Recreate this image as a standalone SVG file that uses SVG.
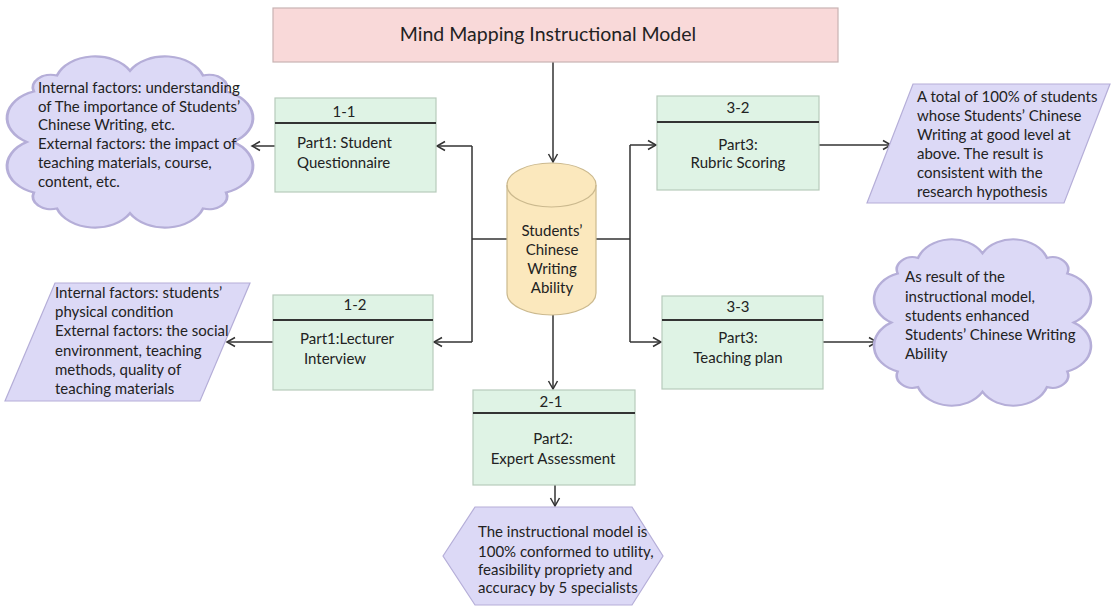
<svg xmlns="http://www.w3.org/2000/svg" width="1112" height="610" viewBox="0 0 1112 610">
<defs>
<style>
.t{font-family:Lato,"Open Sans","DejaVu Sans",sans-serif;font-size:15px;fill:#222}
.c{text-anchor:middle}
.box{fill:#dff3e5;stroke:#b7cbbb;stroke-width:1.2}
.hd{stroke:#333;stroke-width:2}
.pur{fill:#dcd9f6;stroke:#b5aed8;stroke-width:1.2}
.ln{fill:none;stroke:#333;stroke-width:1.5}
</style>
<marker id="ar" markerUnits="userSpaceOnUse" markerWidth="12" markerHeight="12" refX="10" refY="6" orient="auto">
<path d="M2,1.5 L10,6 L2,10.5" fill="none" stroke="#333" stroke-width="1.5"/>
</marker>
<path id="cloud" d="M50,9 A16.4,16.4 0 0 1 79.7,11.8 A7.3,7.3 0 0 1 89.1,21 A16,16 0 0 1 92,50 A16,16 0 0 1 89.1,79 A7.3,7.3 0 0 1 79.7,88.2 A16.4,16.4 0 0 1 50,91 A16.4,16.4 0 0 1 20.3,88.2 A7.3,7.3 0 0 1 10.9,79 A16,16 0 0 1 8,50 A16,16 0 0 1 10.9,21 A7.3,7.3 0 0 1 20.3,11.8 A16.4,16.4 0 0 1 50,9 Z"/>
</defs>
<rect width="1112" height="610" fill="#ffffff"/>

<g id="connectors">
<path class="ln" d="M553,62 V162" marker-end="url(#ar)"/>
<path class="ln" d="M507,239 H472 M472,146 V342 M596,239 H630 M630,145 V342"/>
<path class="ln" d="M472,146 H437" marker-end="url(#ar)"/>
<path class="ln" d="M472,342 H434" marker-end="url(#ar)"/>
<path class="ln" d="M630,145 H656" marker-end="url(#ar)"/>
<path class="ln" d="M630,342 H661" marker-end="url(#ar)"/>
<path class="ln" d="M553,315 V389" marker-end="url(#ar)"/>
<path class="ln" d="M555,485 V506" marker-end="url(#ar)"/>
<path class="ln" d="M275,146 H252" marker-end="url(#ar)"/>
<path class="ln" d="M273,342 H227" marker-end="url(#ar)"/>
<path class="ln" d="M819,145 H891" marker-end="url(#ar)"/>
<path class="ln" d="M822,342 H877" marker-end="url(#ar)"/>
</g>

<g id="title">
<rect x="273" y="8" width="565" height="54" fill="#f9d9d9" stroke="#c8b3b3" stroke-width="1.2"/>
<text class="t c" x="548" y="41" style="font-size:19.5px">Mind Mapping Instructional Model</text>
</g>

<g id="center">
<path d="M507,185 V293 A44.5,22 0 0 0 596,293 V185 A44.5,22 0 0 0 507,185 Z" fill="#fbe8bd" stroke="#cbb98e" stroke-width="1.2"/>
<path d="M507,185 A44.5,22 0 0 0 596,185" fill="none" stroke="#cbb98e" stroke-width="1.2"/>
<text class="t c" x="552" y="236">Students’</text>
<text class="t c" x="552" y="255">Chinese</text>
<text class="t c" x="552" y="274">Writing</text>
<text class="t c" x="552" y="293">Ability</text>
</g>

<g id="box11">
<rect class="box" x="275" y="98" width="161" height="94"/>
<line class="hd" x1="275" y1="123" x2="436" y2="123"/>
<text class="t c" x="344" y="117">1-1</text>
<text class="t" x="297" y="148">Part1: Student</text>
<text class="t" x="297" y="168">Questionnaire</text>
</g>

<g id="box12">
<rect class="box" x="273" y="295" width="160" height="95"/>
<line class="hd" x1="273" y1="320" x2="433" y2="320"/>
<text class="t c" x="355" y="310">1-2</text>
<text class="t" x="300" y="344">Part1:Lecturer</text>
<text class="t" x="304" y="364">Interview</text>
</g>

<g id="box32">
<rect class="box" x="657" y="96" width="162" height="94"/>
<line class="hd" x1="657" y1="122" x2="819" y2="122"/>
<text class="t c" x="738" y="113">3-2</text>
<text class="t c" x="738" y="150">Part3:</text>
<text class="t c" x="738" y="168">Rubric Scoring</text>
</g>

<g id="box33">
<rect class="box" x="662" y="296" width="161" height="93"/>
<line class="hd" x1="662" y1="320" x2="823" y2="320"/>
<text class="t c" x="738" y="312">3-3</text>
<text class="t c" x="738" y="343">Part3:</text>
<text class="t c" x="738" y="363">Teaching plan</text>
</g>

<g id="box21">
<rect class="box" x="473" y="390" width="162" height="95"/>
<line class="hd" x1="473" y1="413" x2="635" y2="413"/>
<text class="t c" x="551" y="407">2-1</text>
<text class="t c" x="553" y="444">Part2:</text>
<text class="t c" x="553" y="464">Expert Assessment</text>
</g>

<g id="cloudLeft">
<use href="#cloud" transform="translate(7,55) scale(2.46,1.74)" fill="#dcd9f6" stroke="#b5aed8" stroke-width="1.2" vector-effect="non-scaling-stroke"/>
<text class="t" x="38" y="93">Internal factors: understanding</text>
<text class="t" x="38" y="112">of The importance of Students’</text>
<text class="t" x="38" y="130">Chinese Writing, etc.</text>
<text class="t" x="38" y="149">External factors: the impact of</text>
<text class="t" x="38" y="168">teaching materials, course,</text>
<text class="t" x="38" y="187">content, etc.</text>
</g>

<g id="paraLeft">
<polygon class="pur" points="55,283 250,283 200,401 5,401"/>
<text class="t" x="55" y="298">Internal factors: students’</text>
<text class="t" x="55" y="317">physical condition</text>
<text class="t" x="55" y="336">External factors: the social</text>
<text class="t" x="55" y="356">environment, teaching</text>
<text class="t" x="55" y="375">methods, quality of</text>
<text class="t" x="55" y="394">teaching materials</text>
</g>

<g id="paraRight">
<polygon class="pur" points="913,84 1110,84 1064,203 867,203"/>
<text class="t" x="917" y="102">A total of 100% of students</text>
<text class="t" x="917" y="121">whose Students’ Chinese</text>
<text class="t" x="917" y="140">Writing at good level at</text>
<text class="t" x="917" y="159">above. The result is</text>
<text class="t" x="917" y="178">consistent with the</text>
<text class="t" x="917" y="197">research hypothesis</text>
</g>

<g id="cloudRight">
<use href="#cloud" transform="translate(874,238) scale(2.17,1.69)" fill="#dcd9f6" stroke="#b5aed8" stroke-width="1.2" vector-effect="non-scaling-stroke"/>
<text class="t" x="905" y="282">As result of the</text>
<text class="t" x="905" y="302">instructional model,</text>
<text class="t" x="905" y="321">students enhanced</text>
<text class="t" x="905" y="340">Students’ Chinese Writing</text>
<text class="t" x="905" y="359">Ability</text>
</g>

<g id="hexagon">
<polygon class="pur" points="443,556 475,507 632,507 663,556 632,605 475,605"/>
<text class="t" x="478" y="537">The instructional model is</text>
<text class="t" x="478" y="557">100% conformed to utility,</text>
<text class="t" x="478" y="575">feasibility propriety and</text>
<text class="t" x="478" y="593">accuracy by 5 specialists</text>
</g>
</svg>
